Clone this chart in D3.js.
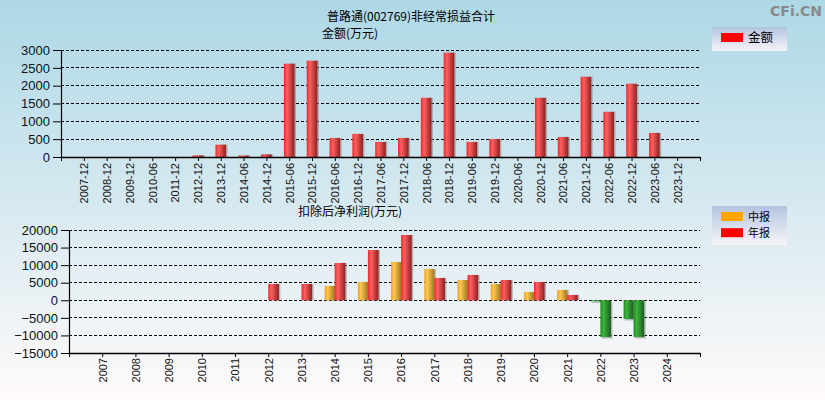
<!DOCTYPE html>
<html><head><meta charset="utf-8">
<script src="https://cdn.jsdelivr.net/npm/d3@7"></script>
<style>html,body{margin:0;padding:0;overflow:hidden}</style>
</head><body>
<svg id="c" width="825" height="400"></svg>
<script>
// ---- data ----
const topCategories = ["2007-12","2008-12","2009-12","2010-06","2011-12","2012-12","2013-12","2014-06","2014-12","2015-06","2015-12","2016-06","2016-12","2017-06","2017-12","2018-06","2018-12","2019-06","2019-12","2020-06","2020-12","2021-06","2021-12","2022-06","2022-12","2023-06","2023-12"];
const topValues = [0,0,0,0,0,45,345,40,75,2616,2700,534,647,422,534,1659,2925,422,506,0,1659,562,2250,1266,2053,675,0];
const topTicks = [0,500,1000,1500,2000,2500,3000];

const years = ["2007","2008","2009","2010","2011","2012","2013","2014","2015","2016","2017","2018","2019","2020","2021","2022","2023","2024"];
const midValues =    [null,null,null,null,null,null,null,4076,5213,10900,8910,5782,4645,2370,2938,-300,-5308,null];
const annualValues = [null,null,null,null,null,4645,4645,10616,14313,18578,6351,7204,5782,5213,1517,-10427,-10427,null];
const bottomTicks = [-15000,-10000,-5000,0,5000,10000,15000,20000];

const titleText = "普路通(002769)非经常损益合计";
const topLabel = "金额(万元)";
const bottomLabel = "扣除后净利润(万元)";

// ---- drawing ----
const svg = d3.select("#c");
const defs = svg.append("defs");
const bg = defs.append("linearGradient").attr("id","bg").attr("x1",0).attr("y1",0).attr("x2",0).attr("y2",1);
bg.append("stop").attr("offset","0%").attr("stop-color","#add8e6");
bg.append("stop").attr("offset","100%").attr("stop-color","#fffafa");
const lg = defs.append("linearGradient").attr("id","lg").attr("x1",0).attr("y1",0).attr("x2",0).attr("y2",1);
lg.append("stop").attr("offset","0%").attr("stop-color","#b4c4e0");
lg.append("stop").attr("offset","100%").attr("stop-color","#f6f4f8");
function barGrad(id, c0, c1, c2){
  const g = defs.append("linearGradient").attr("id",id).attr("x1",0).attr("y1",0).attr("x2",1).attr("y2",0);
  g.append("stop").attr("offset","0%").attr("stop-color",c0);
  g.append("stop").attr("offset","30%").attr("stop-color",c1);
  g.append("stop").attr("offset","100%").attr("stop-color",c2);
}
barGrad("gRed","#f02828","#ff6060","#902020");
barGrad("gOrange","#f0a020","#ffc850","#a07820");
barGrad("gGreen","#1e8a1e","#3cb43c","#1e5a1e");

svg.append("rect").attr("width",825).attr("height",400).attr("fill","url(#bg)");

const tickFont = "'Liberation Sans', Arial, sans-serif";
const cjkFont = "'Noto Sans CJK SC', sans-serif";

// titles
svg.append("text").attr("x",411).attr("y",20.5).attr("text-anchor","middle")
  .attr("font-family",cjkFont).attr("font-size",12).attr("fill","#000").text(titleText);
svg.append("text").attr("x",322).attr("y",37.5).attr("font-family",cjkFont).attr("font-size",12).attr("fill","#000").text(topLabel);
svg.append("text").attr("x",298).attr("y",216).attr("font-family",cjkFont).attr("font-size",12).attr("fill","#000").text(bottomLabel);
svg.append("text").attr("x",822).attr("y",16).attr("text-anchor","end")
  .attr("font-family","'DejaVu Sans', sans-serif").attr("font-weight","bold").attr("font-size",14).attr("fill","#8a8a8a").text("CFi.CN");

function drawPanel(opt){
  const g = svg.append("g");
  const x = d3.scaleLinear().domain([0, opt.cats.length + 1]).range([opt.x0, opt.x1]);
  const y = d3.scaleLinear().domain(opt.domain).range([opt.y0, opt.y1]);
  // gridlines
  g.selectAll(".grid").data(opt.ticks.filter(t => t !== opt.domain[0])).enter().append("line")
    .attr("x1",opt.x0).attr("x2",opt.x1).attr("y1",d=>y(d)).attr("y2",d=>y(d))
    .attr("stroke","#000").attr("stroke-dasharray","3,2").attr("shape-rendering","crispEdges");
  // bars
  opt.series.forEach(s => {
    const data = s.values.map((v,i)=>({v,i})).filter(d => d.v !== null && d.v !== 0);
    // shadow
    g.selectAll(null).data(data).enter().append("rect")
      .attr("x", d => x(d.i+1) + s.off + 1.5)
      .attr("y", d => Math.min(y(d.v), y(0)) + (d.v<0?1.5:0))
      .attr("width", s.w)
      .attr("height", d => Math.abs(y(d.v)-y(0)))
      .attr("fill","#8a8a8a").attr("opacity",0.6);
    g.selectAll(null).data(data).enter().append("rect")
      .attr("x", d => x(d.i+1) + s.off)
      .attr("y", d => Math.min(y(d.v), y(0)))
      .attr("width", s.w)
      .attr("height", d => Math.abs(y(d.v)-y(0)))
      .attr("fill", d => d.v < 0 ? "url(#gGreen)" : s.fill);
  });
  // y axis
  const ya = d3.axisLeft(y).tickValues(opt.ticks).tickSize(8).tickPadding(3).tickFormat(d3.format("d"));
  const yg = g.append("g").attr("transform",`translate(${opt.x0},0)`).call(ya);
  yg.select(".domain").attr("stroke","#000").attr("stroke-width",1.2);
  yg.selectAll(".tick line").attr("stroke","#000");
  yg.selectAll(".tick text").attr("font-family",tickFont).attr("font-size",13).attr("fill","#111");
  // x axis
  const xa = d3.axisBottom(x).tickValues(d3.range(0, opt.cats.length + 2)).tickSize(4).tickSizeOuter(0)
    .tickFormat(i => (i>=1 && i<=opt.cats.length) ? opt.cats[i-1] : "");
  const xg = g.append("g").attr("transform",`translate(0,${opt.y0})`).call(xa);
  xg.select(".domain").attr("stroke","#000").attr("stroke-width",1.5);
  xg.selectAll(".tick line").attr("stroke","#000");
  xg.selectAll(".tick text").attr("font-family",tickFont).attr("font-size",11).attr("fill","#111")
    .attr("transform","rotate(-90)").attr("text-anchor","end").attr("x",-opt.labelGap).attr("y",0).attr("dy","0.35em");
}

drawPanel({cats:topCategories, x0:61, x1:700, y0:157, y1:50, domain:[0,3000], ticks:topTicks, labelGap:6,
  series:[{values:topValues, off:-5.3, w:10.6, fill:"url(#gRed)"}]});
drawPanel({cats:years, x0:69, x1:700, y0:353, y1:230, domain:[-15000,20000], ticks:bottomTicks, labelGap:5,
  series:[{values:midValues, off:-10, w:10, fill:"url(#gOrange)"},{values:annualValues, off:0, w:10.6, fill:"url(#gRed)"}]});

// legends
function legend(y, h, items, fs, step){
  const g = svg.append("g");
  g.append("rect").attr("x",712).attr("y",y).attr("width",75).attr("height",h).attr("fill","url(#lg)");
  items.forEach((it,k)=>{
    g.append("rect").attr("x",721).attr("y",y+6+k*step).attr("width",22).attr("height",9).attr("fill",it.c);
    g.append("text").attr("x",748).attr("y",y+15+k*step).attr("font-family",cjkFont).attr("font-size",fs).attr("fill","#000").text(it.t);
  });
}
legend(27, 24, [{t:"金额", c:"#ff0000"}], 12.5, 0);
legend(206, 39, [{t:"中报", c:"#ffa500"},{t:"年报", c:"#ff0000"}], 11, 16.2);
</script>
</body></html>
